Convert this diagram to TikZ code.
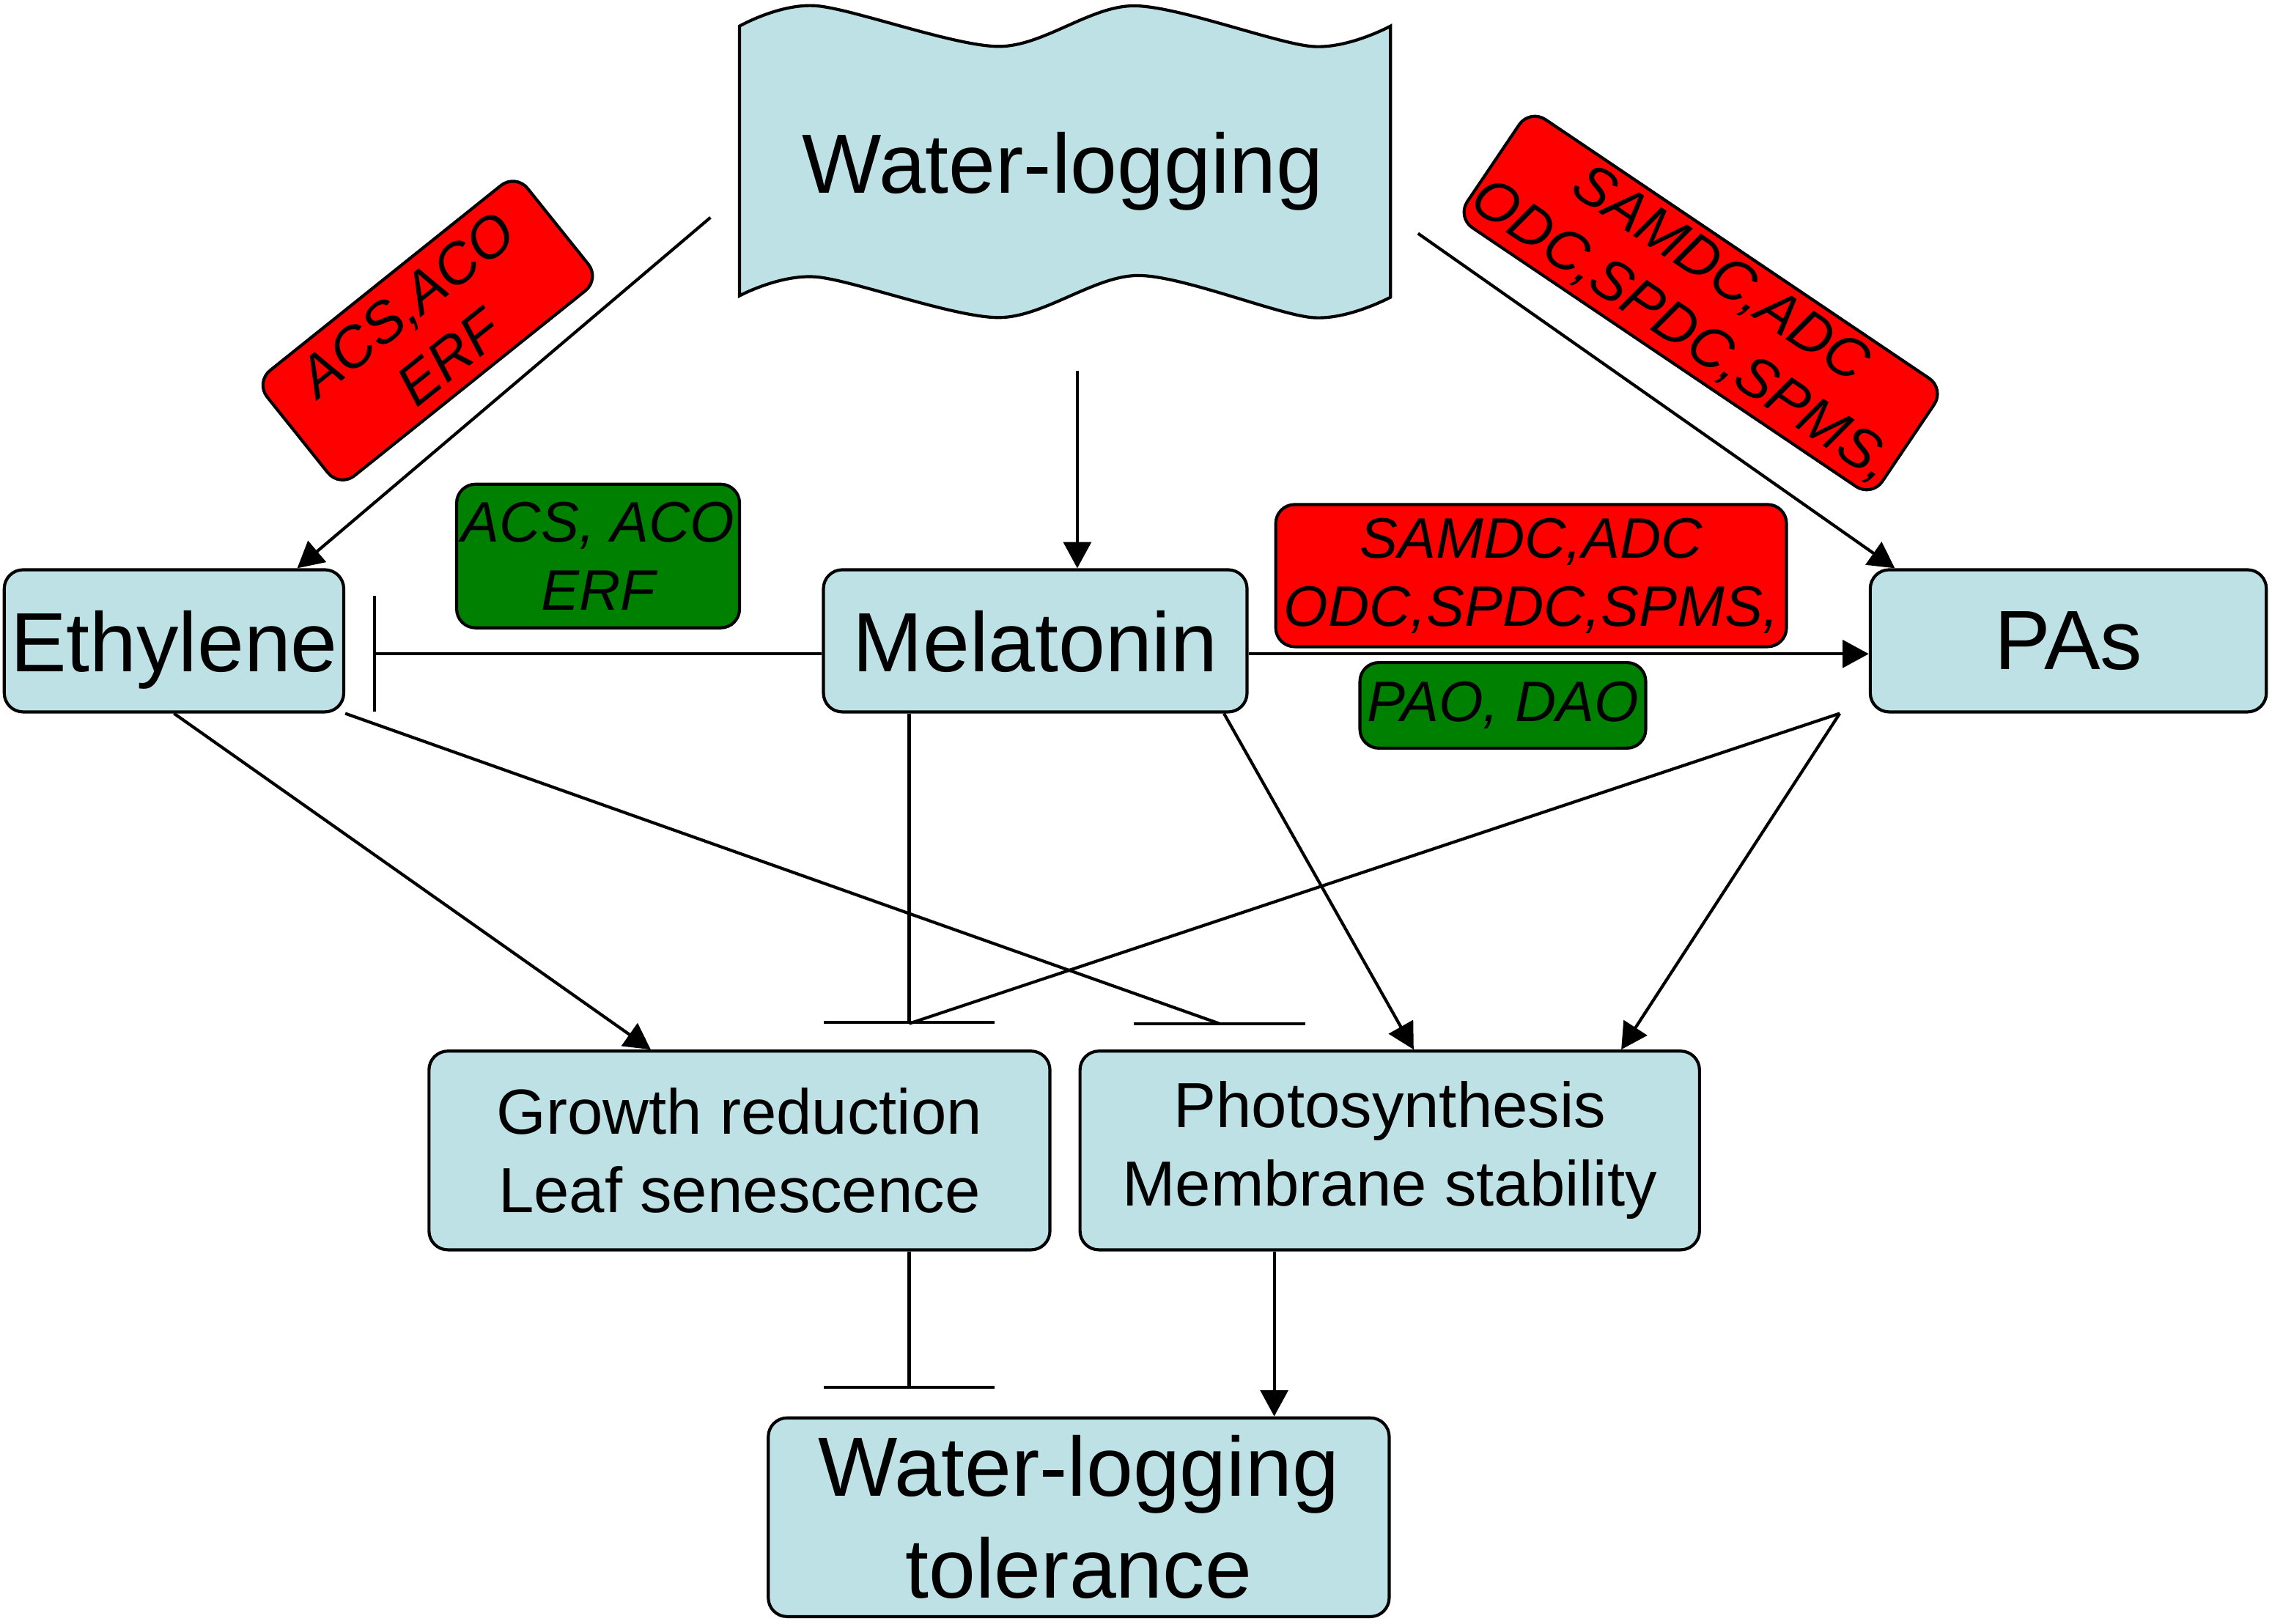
\documentclass[tikz,border=0pt]{standalone}
\usepackage{fontspec}
\setmainfont{Liberation Sans}
\usetikzlibrary{arrows.meta,calc}

\definecolor{boxblue}{RGB}{189,225,229}
\definecolor{enzred}{RGB}{255,0,0}
\definecolor{enzgreen}{RGB}{0,128,0}

\tikzset{
  box/.style={draw, fill=boxblue, rounded corners=0.13cm, inner sep=0pt, align=center},
  bigtxt/.style={font=\fontsize{16.5}{20}\selectfont},
  midtxt/.style={font=\fontsize{12.5}{15.4}\selectfont},
  enz/.style={draw, rounded corners=0.13cm, inner sep=0pt, align=center, font=\fontsize{11.2}{13.4}\selectfont\itshape},
  upreg/.style={enz, fill=enzred},
  downreg/.style={enz, fill=enzgreen},
  arr/.style={-{Triangle[length=0.18cm,width=0.19cm]}},
  inh/.style={-{Bar[width=#1]}},
}

\begin{document}
\begin{tikzpicture}[x=0.01cm, y=-0.01cm, line width=0.6pt]
  \useasboundingbox (0,0) rectangle (1567,1120);

  % Banner
  \filldraw[fill=boxblue]
    plot[smooth] coordinates {(510,18) (563,4) (689,32) (782,4) (905,32) (959,18)}
    -- plot[smooth] coordinates {(959,205) (905,219) (785,190) (689,219) (563,191) (510,204)}
    -- cycle;
  \node[bigtxt, anchor=base] (wl) at (733,133) {Water-logging};

  % Hormones
  \node[box, bigtxt, text depth=0pt, minimum width=2.34cm, minimum height=0.98cm] (eth) at (120,442) {Ethylene};
  \node[box, bigtxt, text depth=0pt, minimum width=2.92cm, minimum height=0.98cm] (mel) at (714,442) {Melatonin};
  \node[box, bigtxt, text depth=0pt, minimum width=2.73cm, minimum height=0.98cm] (pas) at (1426.5,442) {PAs};

  % Responses
  \node[box, midtxt, minimum width=4.28cm, minimum height=1.37cm] (grow) at (510,793.5) {Growth reduction\\Leaf senescence};
  \node[box, midtxt, minimum width=4.27cm, minimum height=1.37cm] (photo) at (958.5,793.5) {Photosynthesis\\Membrane stability};
  \node[box, bigtxt, minimum width=4.28cm, minimum height=1.37cm] (tol) at (744,1046.5) {Water-logging\\tolerance};

  % Genes
  \node[upreg, minimum width=2.3cm, minimum height=0.93cm, rotate=38.7] (ethup) at (295,228) {ACS,ACO\\ERF};
  \node[downreg, minimum width=1.95cm, minimum height=0.99cm] (ethdown) at (412.5,383.5) {ACS, ACO\\ERF};
  \node[upreg, minimum width=3.52cm, minimum height=0.98cm] (paup) at (1056,397) {SAMDC,ADC\\ODC,SPDC,SPMS,};
  \node[downreg, minimum width=1.97cm, minimum height=0.59cm] (padown) at (1036.5,486.5) {PAO, DAO};
  \node[upreg, minimum width=3.45cm, minimum height=0.9cm, rotate=-34] (paup2) at (1173,209) {SAMDC,ADC\\ODC,SPDC,SPMS,};

  \coordinate (wlL) at (490,150);
  \coordinate (wlB) at (743,256);
  \coordinate (wlR) at (978,161);
  \coordinate (b1) at (627,706);
  \coordinate (b2) at (841,706);
  \coordinate (b3) at (627,958);

  % Water-logging
  \draw[arr] (wlL) -- ($(eth.north)+(85,0)$);
  \draw[arr] (wlB) -- (wlB |- mel.north);
  \draw[arr] (wlR) -- ($(pas.north west)+(18,0)$);

  % Melatonin
  \draw[inh=0.8cm] ($(mel.west)+(0,9)$) -- ($(eth.east)+(19,9)$);
  \draw[arr] ($(mel.east)+(0,9)$) -- ($(pas.west)+(0,9)$);
  \draw[inh=1.18cm] (b1 |- mel.south) -- (b1);
  \draw[arr] ($(mel.south east)+(-17,0)$) -- ($(photo.north)+(16.5,0)$);

  % Ethylene
  \draw[arr] (eth.south) -- ($(grow.north west)+(154,0)$);
  \draw (eth.south east) -- (b2);
  \draw ($(b2)+(-59,0)$) -- ($(b2)+(59,0)$);

  % PAs
  \draw ($(pas.south west)+(-20,0)$) coordinate (pf) -- (b1);
  \draw[arr] (pf) -- ($(photo.north east)+(-55,0)$);

  % Tolerance
  \draw[inh=1.18cm] (b3 |- grow.south) -- (b3);
  \draw[arr] ($(photo.south west)+(135,0)$) coordinate (pt) -- (pt |- tol.north);
\end{tikzpicture}
\end{document}
